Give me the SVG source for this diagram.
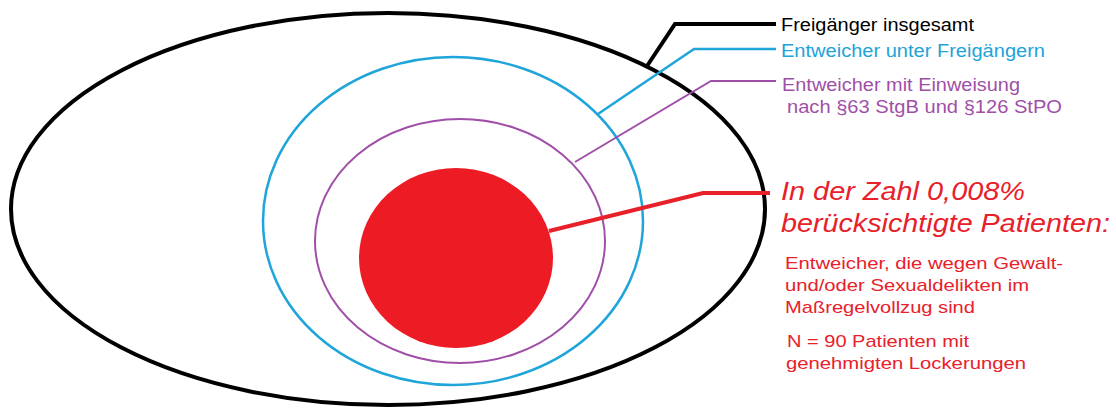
<svg xmlns="http://www.w3.org/2000/svg" width="1116" height="408" viewBox="0 0 1116 408">
<style>
text{font-family:"Liberation Sans",Arial,sans-serif;}
.lbl{font-size:17.5px;}
.big{font-size:25px;font-style:italic;fill:#e8202a;}
.sm{font-size:17px;fill:#e8202a;}
.k{stroke:#000;stroke-width:4;fill:none;}
.b{stroke:#1fa5d9;stroke-width:2.5;fill:none;}
.p{stroke:#a04fa8;stroke-width:2;fill:none;}
.r{stroke:#e8202a;stroke-width:4;fill:none;}
</style>
<rect width="1116" height="408" fill="#fff"/>
<g id="outer"><ellipse cx="388" cy="209" rx="377" ry="196" class="k"/></g>
<g id="escapees"><ellipse cx="453" cy="221" rx="190" ry="164" class="b"/></g>
<g id="committed"><ellipse cx="460" cy="241" rx="145" ry="122" class="p"/></g>
<g id="core"><ellipse cx="456" cy="258" rx="97" ry="90" fill="#ed1c24"/></g>
<g id="connectors">
<polyline points="776,24 675,24 647,66" class="k"/>
<polyline points="776,49 694,49 598,114" class="b"/>
<polyline points="776,81 711,81 575,162" class="p"/>
<polyline points="770,193 703,193 549,231" class="r"/>
</g>
<g id="label-freigaenger"><text x="781" y="31" class="lbl" fill="#000" textLength="193" lengthAdjust="spacingAndGlyphs">Freigänger insgesamt</text></g>
<g id="label-entweicher"><text x="781" y="57" class="lbl" fill="#22a3d8" textLength="264" lengthAdjust="spacingAndGlyphs">Entweicher unter Freigängern</text></g>
<g id="label-einweisung">
<text x="782" y="91" class="lbl" fill="#a04fa8" textLength="238" lengthAdjust="spacingAndGlyphs">Entweicher mit Einweisung</text>
<text x="787" y="113" class="lbl" fill="#a04fa8" textLength="275" lengthAdjust="spacingAndGlyphs">nach §63 StgB und §126 StPO</text>
</g>
<g id="label-core">
<text x="781" y="200" class="big" textLength="244" lengthAdjust="spacingAndGlyphs">In der Zahl 0,008%</text>
<text x="781" y="232" class="big" textLength="329" lengthAdjust="spacingAndGlyphs">berücksichtigte Patienten:</text>
<text x="785" y="269" class="sm" textLength="278" lengthAdjust="spacingAndGlyphs">Entweicher, die wegen Gewalt-</text>
<text x="785" y="291" class="sm" textLength="244" lengthAdjust="spacingAndGlyphs">und/oder Sexualdelikten im</text>
<text x="785" y="313" class="sm" textLength="190" lengthAdjust="spacingAndGlyphs">Maßregelvollzug sind</text>
<text x="787" y="347" class="sm" textLength="182" lengthAdjust="spacingAndGlyphs">N = 90 Patienten mit</text>
<text x="786" y="369" class="sm" textLength="240" lengthAdjust="spacingAndGlyphs">genehmigten Lockerungen</text>
</g>
</svg>
